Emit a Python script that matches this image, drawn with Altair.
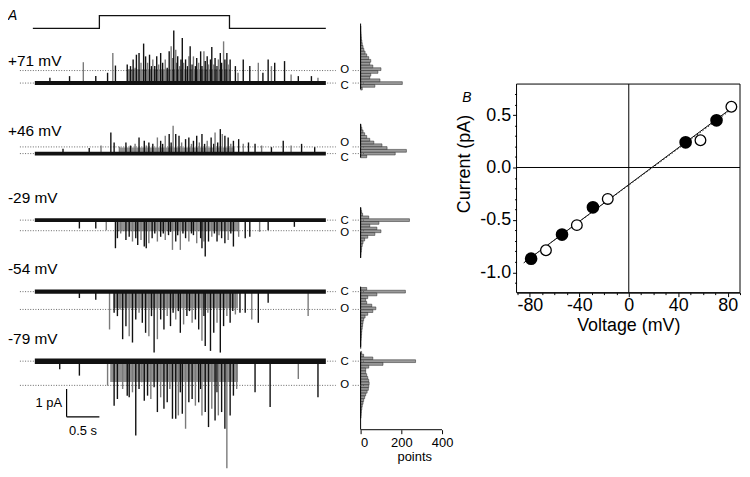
import altair as alt
import pandas as pd

FONT = "Liberation Sans"
PX_PER_PA = 28.0  # layout: vertical pixels per pA in panel A

# ---------------- Panel B data (I-V relation) ----------------
v_filled = [-79, -54, -29, 46, 71]
i_filled = [-0.87, -0.64, -0.38, 0.24, 0.45]
v_open = [-67, -42, -17, 58, 83]
i_open = [-0.79, -0.55, -0.30, 0.26, 0.58]
fit_solid_v = [-85, 87]
fit_solid_i = [-0.91, 0.60]
fit_dotted_v = [-83, 85]
fit_dotted_i = [-0.89, 0.57]

# ---------------- Panel A data (single-channel records) ----------------
trace_labels = ["+71 mV", "+46 mV", "-29 mV", "-54 mV", "-79 mV"]
closed_level = [0.0, 0.0, 0.0, 0.0, 0.0]
open_level = [0.45, 0.24, -0.38, -0.64, -0.87]
noise_pa = [0.07, 0.07, 0.07, 0.08, 0.10]
trace_start_s = 0.0
trace_end_s = 4.44
# dense bursts of openings: (start s, end s, typical level pA)
bursts = [(1.41, 2.98, 0.50), (1.30, 3.05, 0.22), (1.25, 3.10, -0.40), (1.20, 3.10, -0.60),
          (1.15, 3.10, -0.75)]

stim_t = [-0.03, 0.985, 0.985, 2.97, 2.97, 4.44]
stim_v = [0, 0, 1, 1, 0, 0]

spikes_71 = [(0.23, 0.19), (0.53, 0.25), (0.74, 0.75), (0.93, 0.25), (1.11, 0.37), (1.19, 1.08), (1.23, 0.63),
             (1.41, 0.67), (1.44, 0.49), (1.46, 0.61), (1.50, 0.85), (1.53, 0.55), (1.55, 1.02), (1.59, 1.08),
             (1.62, 0.73), (1.66, 1.42), (1.69, 0.96), (1.72, 0.73), (1.75, 1.02), (1.78, 0.61), (1.80, 0.85),
             (1.83, 0.61), (1.86, 0.96), (1.89, 0.67), (1.92, 1.08), (1.95, 0.73), (1.99, 0.85), (2.02, 0.55),
             (2.05, 1.14), (2.08, 1.32), (2.11, 0.90), (2.12, 1.89), (2.15, 1.20), (2.17, 0.73), (2.18, 0.96),
             (2.21, 0.61), (2.23, 0.85), (2.25, 1.62), (2.27, 0.73), (2.30, 0.85), (2.33, 0.61), (2.35, 0.96),
             (2.37, 1.32), (2.40, 0.67), (2.42, 0.96), (2.45, 0.61), (2.47, 0.90), (2.50, 0.73), (2.53, 1.14),
             (2.55, 0.61), (2.58, 1.14), (2.60, 0.79), (2.63, 0.96), (2.65, 0.67), (2.68, 0.85), (2.70, 1.30),
             (2.73, 0.67), (2.75, 0.90), (2.78, 0.61), (2.80, 0.85), (2.83, 1.08), (2.85, 0.73), (2.88, 1.50),
             (2.90, 0.85), (2.93, 1.08), (2.95, 0.67), (2.98, 0.85),
             (3.06, 0.61), (3.10, 0.37), (3.18, 0.85), (3.28, 0.61), (3.41, 0.73), (3.48, 0.37), (3.56, 0.85),
             (3.61, 0.61), (3.66, 0.73), (3.81, 0.79), (3.91, 0.31), (4.02, 0.25), (4.22, 0.25), (4.32, 0.19)]

spikes_46 = [(0.43, 0.17), (0.83, 0.20), (1.01, 0.29), (1.16, 0.76), (1.21, 0.40), (1.29, 0.25), (1.39, 0.40),
             (1.46, 0.29), (1.53, 0.35), (1.59, 0.58), (1.67, 0.46), (1.70, 0.29), (1.74, 0.40), (1.80, 0.35),
             (1.87, 0.58), (1.92, 0.46), (1.95, 0.35), (1.99, 0.64), (2.05, 0.70), (2.08, 0.40), (2.11, 1.00),
             (2.15, 0.70), (2.20, 0.64), (2.24, 0.40), (2.30, 0.52), (2.35, 0.58), (2.39, 0.35), (2.42, 0.46),
             (2.47, 0.64), (2.51, 0.40), (2.55, 0.70), (2.59, 0.35), (2.63, 0.46), (2.69, 0.58), (2.73, 0.35),
             (2.75, 0.76), (2.79, 0.40), (2.83, 0.88), (2.86, 0.70), (2.90, 0.64), (2.95, 0.58), (2.99, 0.35),
             (3.03, 0.46), (3.11, 0.52), (3.18, 0.35), (3.26, 0.40), (3.36, 0.35), (3.46, 0.29), (3.61, 0.23),
             (3.79, 0.46), (3.91, 0.29), (4.07, 0.35), (4.27, 0.23)]

spikes_29 = [(0.68, -0.30), (0.93, -0.30), (1.09, -0.36), (1.23, -1.01), (1.26, -0.65), (1.31, -0.48),
             (1.39, -0.71), (1.44, -0.60), (1.49, -0.77), (1.54, -0.65), (1.57, -0.89), (1.62, -0.71),
             (1.67, -0.95), (1.70, -1.01), (1.74, -0.83), (1.79, -0.65), (1.83, -0.48), (1.87, -0.77),
             (1.92, -0.60), (1.96, -0.48), (1.99, -0.71), (2.04, -0.54), (2.07, -0.42), (2.10, -1.07),
             (2.15, -0.77), (2.18, -0.54), (2.22, -1.07), (2.26, -0.48), (2.30, -0.65), (2.35, -0.77),
             (2.39, -0.48), (2.42, -0.54), (2.47, -0.83), (2.53, -0.65), (2.55, -1.01), (2.58, -0.77),
             (2.60, -1.31), (2.65, -0.77), (2.70, -0.60), (2.74, -0.48), (2.78, -0.77), (2.81, -0.54),
             (2.85, -0.65), (2.90, -0.83), (2.95, -0.71), (2.99, -0.48), (3.03, -0.95), (3.11, -0.60),
             (3.21, -0.65), (3.28, -0.60), (3.43, -0.42), (3.56, -0.36), (3.96, -0.24)]

spikes_54 = [(0.68, -0.23), (0.93, -0.29), (1.14, -1.36), (1.21, -0.76), (1.26, -0.88), (1.30, -0.64),
             (1.34, -1.71), (1.39, -1.24), (1.44, -1.60), (1.49, -1.83), (1.54, -1.00), (1.59, -0.76),
             (1.64, -1.12), (1.69, -1.48), (1.74, -1.60), (1.78, -0.88), (1.82, -2.19), (1.87, -1.71),
             (1.92, -1.00), (1.97, -1.36), (2.02, -0.88), (2.07, -1.24), (2.11, -0.76), (2.15, -1.00),
             (2.19, -0.70), (2.22, -1.48), (2.27, -1.18), (2.32, -0.88), (2.36, -0.70), (2.40, -1.12),
             (2.45, -1.00), (2.50, -1.36), (2.55, -1.77), (2.58, -0.88), (2.60, -1.95), (2.64, -0.76),
             (2.68, -2.13), (2.73, -1.48), (2.78, -1.12), (2.83, -2.19), (2.88, -1.24), (2.93, -0.88),
             (2.98, -1.12), (3.02, -0.70), (3.06, -0.82), (3.13, -0.76), (3.21, -0.76), (3.31, -1.00),
             (3.41, -1.12), (3.56, -0.40), (4.17, -0.88)]

spikes_79 = [(0.38, -0.29), (0.68, -0.52), (1.11, -0.88), (1.21, -1.60), (1.26, -1.36), (1.34, -1.00),
             (1.41, -1.24), (1.44, -1.30), (1.49, -1.12), (1.54, -2.67), (1.59, -1.00), (1.63, -0.76),
             (1.67, -1.42), (1.72, -1.24), (1.77, -1.36), (1.82, -0.94), (1.87, -1.83), (1.92, -1.30),
             (1.97, -1.71), (2.02, -1.48), (2.06, -1.00), (2.10, -2.07), (2.15, -2.07), (2.19, -1.95),
             (2.22, -1.12), (2.25, -1.89), (2.30, -2.43), (2.35, -1.48), (2.40, -1.36), (2.45, -1.60),
             (2.50, -1.48), (2.53, -1.00), (2.55, -1.95), (2.60, -1.83), (2.65, -2.37), (2.70, -1.71),
             (2.75, -2.13), (2.78, -1.12), (2.80, -1.95), (2.85, -1.83), (2.90, -2.43), (2.93, -3.85),
             (2.98, -1.95), (3.03, -1.24), (3.08, -1.00), (3.36, -1.12), (3.59, -1.65), (4.02, -0.64),
             (4.32, -1.30)]

hist_71_pa = [-0.2, -0.1, 0.0, 0.1, 0.2, 0.3, 0.4, 0.5, 0.6, 0.7, 0.8, 0.9, 1.0, 1.1, 1.2, 1.3, 1.4, 1.5,
              1.6, 1.7, 1.8, 1.9, 2.0]
hist_71_n = [8, 70, 205, 95, 45, 50, 85, 100, 60, 45, 50, 40, 30, 22, 16, 12, 8, 6, 4, 3, 2, 1, 1]
hist_46_pa = [-0.1, 0.0, 0.1, 0.2, 0.3, 0.4, 0.5, 0.6, 0.7, 0.8, 0.9, 1.0]
hist_46_n = [30, 170, 225, 130, 105, 65, 45, 30, 20, 12, 6, 2]
hist_29_pa = [0.4, 0.3, 0.2, 0.1, 0.0, -0.1, -0.2, -0.3, -0.4, -0.5, -0.6, -0.7, -0.8, -0.9, -1.0, -1.1,
              -1.2, -1.3]
hist_29_n = [2, 5, 10, 40, 240, 90, 45, 80, 100, 70, 35, 20, 12, 8, 5, 4, 2, 1]
hist_54_pa = [0.1, 0.0, -0.1, -0.2, -0.3, -0.4, -0.5, -0.6, -0.7, -0.8, -0.9, -1.0, -1.1, -1.2, -1.3,
              -1.4, -1.5, -1.6, -1.7, -1.8, -1.9, -2.0]
hist_54_n = [30, 220, 80, 35, 25, 30, 55, 75, 60, 35, 22, 15, 12, 10, 8, 6, 5, 4, 3, 2, 2, 1]
hist_79_pa = [0.3, 0.2, 0.1, 0.0, -0.1, -0.2, -0.3, -0.4, -0.5, -0.6, -0.7, -0.8, -0.9, -1.0, -1.1, -1.2,
              -1.3, -1.4, -1.5, -1.6, -1.7, -1.8, -1.9, -2.0]
hist_79_n = [5, 15, 60, 270, 110, 40, 25, 25, 30, 35, 40, 42, 40, 38, 32, 25, 20, 15, 12, 8, 6, 4, 3, 2]
hist_span = [(-0.21, 2.14), (-0.14, 1.07), (-1.36, 0.46), (-2.0, 0.18), (-2.46, 0.32)]
hist_bin_pa = 0.1
hist_axis_ticks = [0, 200, 400]

spikes = [spikes_71, spikes_46, spikes_29, spikes_54, spikes_79]
hist_pa = [hist_71_pa, hist_46_pa, hist_29_pa, hist_54_pa, hist_79_pa]
hist_n = [hist_71_n, hist_46_n, hist_29_n, hist_54_n, hist_79_n]

# scale bar (in data units of the last record)
bar_t0, bar_dt = 0.485, 0.5
bar_i0, bar_di = -2.0, 1.0

# ---------------- layout (pixels) ----------------
COL_TOP, COL_BOTTOM = 14, 431          # page rows spanned by panel A columns
STIM_HI, STIM_LO = 14, 27              # stimulus levels
closed_px = [82, 153, 220, 292, 362]   # closed level of each record
label_nudge = [(3, -1), (4, -4), (1, 2), (0, 0), (1, 0)]  # (C, O) text offsets
TRACE_W = 293
HIST_W = 122
HIST_PX_PER_PT = 82 / 400
COL_H = COL_BOTTOM - COL_TOP
B_W, B_H_PLOT, B_OFFSET = 225, 210, 69


def dom(c):
    return [-(COL_BOTTOM - c) / PX_PER_PA, (c - COL_TOP) / PX_PER_PA]


xsc_t = alt.Scale(domain=[trace_start_s, trace_end_s], nice=False, zero=False)
shade_scale = alt.Scale(domain=["k", "g"], range=["#111111", "#7a7a7a"])


def trace_layers(k):
    ysc = alt.Scale(domain=dom(closed_px[k]), nice=False, zero=False)
    sp = spikes[k]
    df = pd.DataFrame({"t": [p[0] for p in sp], "a": [p[1] for p in sp]})
    df["base"] = closed_level[k]
    df["shade"] = ["g" if i % 3 == 2 else "k" for i in range(len(df))]
    lv = pd.DataFrame({"lvl": [closed_level[k], open_level[k]]})

    out = []
    out.append(alt.Chart(lv).mark_rule(color="#555555", strokeDash=[1, 1.6], strokeWidth=0.9).encode(
        x=alt.value(-15), x2=alt.value(303), y=alt.Y("lvl:Q", scale=ysc, axis=None)))
    b0, b1, blev = bursts[k]
    out.append(alt.Chart(pd.DataFrame({"t0": [b0], "t1": [b1], "lo": [closed_level[k]], "hi": [blev]})
                         ).mark_rect(color="#3a3a3a", opacity=0.55).encode(
        x=alt.X("t0:Q", scale=xsc_t, axis=None), x2="t1",
        y=alt.Y("lo:Q", scale=ysc, axis=None), y2="hi"))
    out.append(alt.Chart(df).mark_rule(strokeWidth=1.4).encode(
        x=alt.X("t:Q", scale=xsc_t, axis=None),
        y=alt.Y("base:Q", scale=ysc, axis=None), y2="a",
        color=alt.Color("shade:N", scale=shade_scale, legend=None)))
    out.append(alt.Chart(pd.DataFrame({"t0": [trace_start_s], "t1": [trace_end_s],
                                       "lo": [closed_level[k] - noise_pa[k]],
                                       "hi": [closed_level[k] + noise_pa[k]]})
                         ).mark_rect(color="#111111").encode(
        x=alt.X("t0:Q", scale=xsc_t, axis=None), x2="t1",
        y=alt.Y("lo:Q", scale=ysc, axis=None), y2="hi"))
    for lvl, txt, dy in [(closed_level[k], "C", label_nudge[k][0]), (open_level[k], "O", label_nudge[k][1])]:
        out.append(alt.Chart(pd.DataFrame({"lvl": [lvl], "txt": [txt]})).mark_text(
            font=FONT, fontSize=11.5, align="center", baseline="middle", color="black", dy=dy).encode(
            x=alt.value(312), y=alt.Y("lvl:Q", scale=ysc, axis=None), text="txt:N"))
    out.append(alt.Chart(pd.DataFrame({"txt": [trace_labels[k]], "ly": [closed_level[k] + 0.8]})).mark_text(
        font=FONT, fontSize=15.5, align="left", baseline="middle", color="black").encode(
        x=alt.value(-27), y=alt.Y("ly:Q", scale=ysc, axis=None), text="txt:N"))
    if k == 4:
        sb = pd.DataFrame({"t": [bar_t0, bar_t0], "t2": [bar_t0, bar_t0 + bar_dt],
                           "i": [bar_i0, bar_i0], "i2": [bar_i0 + bar_di, bar_i0]})
        out.append(alt.Chart(sb).mark_rule(color="black", strokeWidth=1.2).encode(
            x=alt.X("t:Q", scale=xsc_t, axis=None), x2="t2",
            y=alt.Y("i:Q", scale=ysc, axis=None), y2="i2"))
        out.append(alt.Chart(pd.DataFrame({"t": [bar_t0 - 0.07], "i": [bar_i0 + bar_di / 2],
                                           "txt": ["1 pA"]})).mark_text(
            font=FONT, fontSize=13, align="right", baseline="middle", color="black").encode(
            x=alt.X("t:Q", scale=xsc_t, axis=None), y=alt.Y("i:Q", scale=ysc, axis=None), text="txt:N"))
        out.append(alt.Chart(pd.DataFrame({"t": [bar_t0 + bar_dt / 2], "i": [bar_i0 - 0.5],
                                           "txt": ["0.5 s"]})).mark_text(
            font=FONT, fontSize=13, align="center", baseline="middle", color="black").encode(
            x=alt.X("t:Q", scale=xsc_t, axis=None), y=alt.Y("i:Q", scale=ysc, axis=None), text="txt:N"))
    return out


# stimulus + "A"
stim_dom = [1 - (COL_BOTTOM - STIM_HI) / (STIM_LO - STIM_HI), 1]
stim_df = pd.DataFrame({"t": stim_t, "v": stim_v, "o": list(range(len(stim_t)))})
stim_line = alt.Chart(stim_df).mark_line(color="#111111", strokeWidth=1.3).encode(
    x=alt.X("t:Q", scale=xsc_t, axis=None),
    y=alt.Y("v:Q", scale=alt.Scale(domain=stim_dom, nice=False, zero=False), axis=None),
    order="o:Q")
a_label = alt.Chart(pd.DataFrame({"txt": ["A"]})).mark_text(
    font=FONT, fontSize=14, fontStyle="italic", align="left", baseline="top", color="black").encode(
    x=alt.value(-27), y=alt.value(-6), text="txt:N")

t_layers = [stim_line, a_label]
for k in range(5):
    t_layers += trace_layers(k)
traces = alt.layer(*t_layers).resolve_scale(y="independent").properties(width=TRACE_W, height=COL_H)

# histograms
xsc_h = alt.Scale(domain=[0, HIST_W / HIST_PX_PER_PT], nice=False, zero=False)
h_axis = alt.Axis(values=hist_axis_ticks, title="points", labelFont=FONT, labelFontSize=13,
                  labelColor="black", titleFont=FONT, titleFontSize=13, titleFontWeight="normal",
                  titleColor="black", tickSize=4, tickColor="black", domain=False,
                  labelPadding=3, titlePadding=1, grid=False, titleX=54, titleAnchor="middle")
h_layers = []
for k in range(5):
    ysc = alt.Scale(domain=dom(closed_px[k]), nice=False, zero=False)
    df = pd.DataFrame({"pa": hist_pa[k], "n": hist_n[k]})
    df["lo"] = df["pa"] - hist_bin_pa / 2
    df["hi"] = df["pa"] + hist_bin_pa / 2
    df["zero"] = 0
    h_layers.append(alt.Chart(df).mark_rect(fill="#9a9a9a", stroke="#222222", strokeWidth=0.5).encode(
        x=alt.X("zero:Q", scale=xsc_h, axis=h_axis), x2="n",
        y=alt.Y("lo:Q", scale=ysc, axis=None), y2="hi"))
    h_layers.append(alt.Chart(pd.DataFrame({"lo": [hist_span[k][0]], "hi": [hist_span[k][1]]})).mark_rule(
        color="black", strokeWidth=1).encode(
        x=alt.value(0), y=alt.Y("lo:Q", scale=ysc, axis=None), y2="hi"))
    h_layers.append(alt.Chart(pd.DataFrame({"lvl": [closed_level[k], open_level[k]]})).mark_rule(
        color="#555555", strokeDash=[1, 1.6], strokeWidth=0.9).encode(
        x=alt.value(-8), x2=alt.value(5), y=alt.Y("lvl:Q", scale=ysc, axis=None)))
# x-axis line of the histograms (0 to 400 points)
h_layers.append(alt.Chart(pd.DataFrame({"zero": [hist_axis_ticks[0]], "n": [hist_axis_ticks[-1]]})).mark_rule(
    color="black", strokeWidth=1).encode(
    x=alt.X("zero:Q", scale=xsc_h, axis=h_axis), x2="n", y=alt.value(COL_H)))
hists = alt.layer(*h_layers).resolve_scale(y="independent").properties(width=HIST_W, height=COL_H)

# ---------------- Panel B ----------------
b_xdom = [-90.8, 90.0]
b_ydom = [-1.194, 0.796]
b_ytop = b_ydom[1] + B_OFFSET * (b_ydom[1] - b_ydom[0]) / B_H_PLOT
xsB = alt.Scale(domain=b_xdom, nice=False, zero=False)
ysB = alt.Scale(domain=[b_ydom[0], b_ytop], nice=False, zero=False)
x_vals = [-90, -80, -70, -60, -50, -40, -30, -20, -10, 0, 10, 20, 30, 40, 50, 60, 70, 80, 90]
y_vals = [-1.1, -1.0, -0.9, -0.8, -0.7, -0.6, -0.5, -0.4, -0.3, -0.2, -0.1, 0.0,
          0.1, 0.2, 0.3, 0.4, 0.5, 0.6, 0.7]
x_major = "datum.value % 40 === 0"
y_major = "abs(datum.value * 2 - round(datum.value * 2)) < 0.001"
x_axis = alt.Axis(values=x_vals, title="Voltage (mV)",
                  labelExpr=x_major + " ? toString(datum.value) : ''",
                  tickSize={"condition": {"test": x_major, "value": 4}, "value": 2},
                  labelFont=FONT, labelFontSize=18, labelColor="black", labelPadding=0,
                  titleFont=FONT, titleFontSize=18, titleFontWeight="normal", titleColor="black",
                  titlePadding=2, tickColor="black", domainColor="black", grid=False, labelFlush=False,
                  labelOverlap=False)
y_axis = alt.Axis(values=y_vals, title="Current (pA)",
                  labelExpr=y_major + " ? replace(format(datum.value, '.1f'), '\u2212', '-') : ''",
                  tickSize={"condition": {"test": y_major, "value": 4}, "value": 2},
                  labelFont=FONT, labelFontSize=18, labelColor="black", labelPadding=2,
                  titleFont=FONT, titleFontSize=18, titleFontWeight="normal", titleColor="black",
                  titlePadding=6, titleY=149, tickColor="black", domain=False, grid=False,
                  labelFlush=False, labelOverlap=False)


def bx():
    return alt.X("V:Q", scale=xsB, axis=x_axis)


def by():
    return alt.Y("I:Q", scale=ysB, axis=y_axis)


frame = alt.Chart(pd.DataFrame({"V": [b_xdom[0]], "V2": [b_xdom[1]], "I": [b_ydom[0]], "I2": [b_ydom[1]]})
                  ).mark_rect(fillOpacity=0, stroke="black", strokeWidth=1).encode(
    x=bx(), x2="V2", y=by(), y2="I2")
zero_v = alt.Chart(pd.DataFrame({"V": [0, 0], "I": [b_ydom[0], b_ydom[1]]})).mark_line(
    color="black", strokeWidth=1).encode(x=bx(), y=by())
zero_i = alt.Chart(pd.DataFrame({"V": b_xdom, "I": [0, 0]})).mark_line(
    color="black", strokeWidth=1).encode(x=bx(), y=by())
solid = alt.Chart(pd.DataFrame({"V": fit_solid_v, "I": fit_solid_i})).mark_line(
    color="black", strokeWidth=1).encode(x=bx(), y=by())
dotted = alt.Chart(pd.DataFrame({"V": fit_dotted_v, "I": fit_dotted_i})).mark_line(
    color="#333333", strokeWidth=1, strokeDash=[1.5, 2]).encode(x=bx(), y=by())
filled = alt.Chart(pd.DataFrame({"V": v_filled, "I": i_filled})).mark_point(
    shape="circle", filled=True, fill="black", stroke="black", size=115, opacity=1).encode(x=bx(), y=by())
opened = alt.Chart(pd.DataFrame({"V": v_open, "I": i_open})).mark_point(
    shape="circle", filled=True, fill="white", stroke="black", strokeWidth=1.3, size=115,
    opacity=1).encode(x=bx(), y=by())
b_label = alt.Chart(pd.DataFrame({"txt": ["B"]})).mark_text(
    font=FONT, fontSize=14, fontStyle="italic", align="center", baseline="middle", color="black").encode(
    x=alt.value(-50), y=alt.value(B_OFFSET + 14), text="txt:N")

panel_b = alt.layer(frame, zero_v, zero_i, solid, dotted, filled, opened, b_label).properties(
    width=B_W, height=B_H_PLOT + B_OFFSET)

chart = (alt.hconcat(traces, hists, panel_b, spacing=35, bounds="flush")
         .properties(padding=0, background="white")
         .configure(font=FONT)
         .configure_view(stroke="transparent", strokeWidth=0))

chart.save("out.html", embed_options={"renderer": "svg", "actions": False})
